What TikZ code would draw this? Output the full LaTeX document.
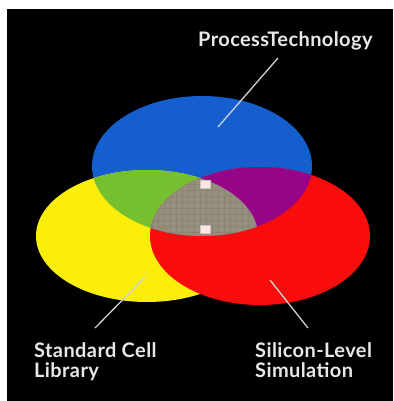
\documentclass[tikz,border=0pt]{standalone}
\usepackage{fontspec}
\setmainfont{Lato}[LetterSpace=2]
\definecolor{cblue}{RGB}{20,95,205}
\definecolor{cyellow}{RGB}{250,238,10}
\definecolor{cred}{RGB}{248,12,12}
\definecolor{cgreen}{RGB}{118,192,48}
\definecolor{cpurple}{RGB}{150,5,135}
\definecolor{cgray}{RGB}{150,143,125}
\definecolor{clabel}{RGB}{232,232,232}
\tikzset{
  lbl/.style={text=clabel, font=\fontsize{20}{20}\selectfont\bfseries, inner sep=0pt, align=left},
  leader/.style={draw=clabel!90!black, line width=1.3pt},
  chip/.style={draw=cgray!50!white, fill=white!90!red, line width=0.8pt, minimum width=10pt, minimum height=8pt, inner sep=0pt}
}
\begin{document}
\begin{tikzpicture}[x=1pt,y=-1pt]
\useasboundingbox (0,0) rectangle (393,401);
\fill[white] (0,0) rectangle (393,401);
\fill[black] (7,9) rectangle (393,401);
% base ellipses
\fill[cblue] (202,166) ellipse [x radius=110, y radius=70];
\fill[cyellow] (147,236) ellipse [x radius=111, y radius=66];
\fill[cred] (260,236) ellipse [x radius=110, y radius=69];
% overlaps
\begin{scope}
  \clip (202,166) ellipse [x radius=110, y radius=70];
  \fill[cgreen] (147,236) ellipse [x radius=111, y radius=66];
  \fill[cpurple] (260,236) ellipse [x radius=110, y radius=69];
  \clip (147,236) ellipse [x radius=111, y radius=66];
  \fill[cgray] (260,236) ellipse [x radius=110, y radius=69];
  \clip (260,236) ellipse [x radius=110, y radius=69];
  \foreach \gx in {140,146,...,272} {\draw[cgray!92!black, line width=0.35pt] (\gx,160) -- (\gx,240);}
  \foreach \gy in {160,166,...,240} {\draw[cgray!92!black, line width=0.35pt] (140,\gy) -- (272,\gy);}
\end{scope}
\node[chip] (c1) at (205,184) {};
\node[chip] (c2) at (205,229) {};
% labels
\node[lbl, anchor=base west] (pt) at (198,47) {ProcessTechnology};
\node[lbl, anchor=north west] (scl) at (34,342) {Standard Cell\\Library};
\node[lbl, anchor=north west] (sls) at (255,342) {Silicon-Level\\Simulation};
% leaders
\coordinate (p1) at (218,127);
\coordinate (p2) at (278,58);
\coordinate (s1) at (145,277);
\coordinate (s2) at (95,328);
\coordinate (r1) at (270,280);
\coordinate (r2) at (308,328);
\draw[leader] (p1) -- (p2);
\draw[leader] (s1) -- (s2);
\draw[leader] (r1) -- (r2);
\end{tikzpicture}
\end{document}
